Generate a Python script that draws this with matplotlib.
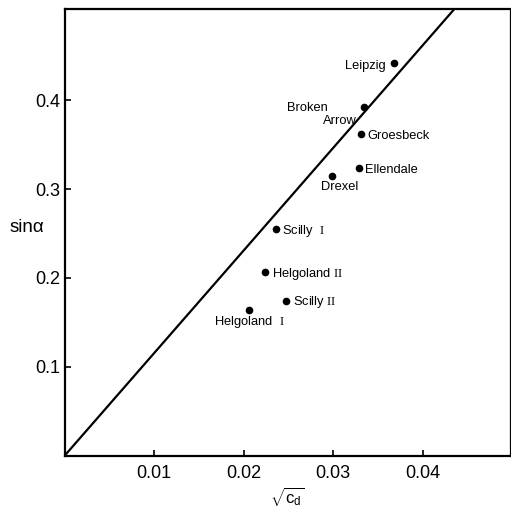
import matplotlib
matplotlib.use('Agg')
import matplotlib.pyplot as plt
import numpy as np

plt.rcParams['font.family'] = ['Liberation Sans', 'DejaVu Sans']
plt.rcParams['mathtext.fontset'] = 'custom'
plt.rcParams['mathtext.rm'] = 'Liberation Serif'
plt.rcParams['mathtext.sf'] = 'Liberation Sans'

# ─── DATOS ───────────────────────────────────────────────────────────────────
nombres = ['Leipzig', 'Broken', 'Groesbeck', 'Ellendale', 'Drexel',
           r'Scilly  $\mathrm{I}$', r'Helgoland $\mathrm{II}$',
           r'Scilly $\mathrm{II}$', r'Helgoland  $\mathrm{I}$']
raiz_cd = [0.03675, 0.03343, 0.03306, 0.03291, 0.02982,
           0.0236, 0.0224, 0.02468, 0.0206]
sin_alfa = [0.4423, 0.3928, 0.3617, 0.3234, 0.3151,
            0.2547, 0.2063, 0.174, 0.1639]

pendiente = 11.55          # recta sin(alfa) = k * sqrt(Cd)
x_ticks = [0.01, 0.02, 0.03, 0.04]
y_ticks = [0.1, 0.2, 0.3, 0.4]

# desplazamientos de etiqueta (puntos) y alineación
offsets = [(-6, -2, 'right'), (-26, -1, 'right'), (5, -1.5, 'left'),
           (4, -1, 'left'), (-8, -8, 'left'), (4, -1.5, 'left'),
           (5, -1.5, 'left'), (5, -0.5, 'left'), (-25, -8.5, 'left')]

fig = plt.figure(figsize=(5.11, 5.09), dpi=100)
ax = fig.add_axes([0.1268, 0.1051, 0.8703, 0.8766])

x_linea = np.array([0, 0.05])
ax.plot(x_linea, pendiente * x_linea, color='black', lw=1.6)
ax.plot(raiz_cd, sin_alfa, 'o', color='black', ms=4.5)

for nombre, xi, yi, (dx, dy, ha) in zip(nombres, raiz_cd, sin_alfa, offsets):
    ax.annotate(nombre, (xi, yi), xytext=(dx, dy), textcoords='offset points',
                ha=ha, va='center', fontsize=9.3)
# segunda línea de "Broken Arrow"
ax.annotate('Arrow', (raiz_cd[1], sin_alfa[1]), xytext=(-5, -10),
            textcoords='offset points', ha='right', va='center', fontsize=9.3)

ax.set_xlim(0, 0.0497)
ax.set_ylim(0, 0.5025)
ax.set_xticks(x_ticks)
ax.set_xticklabels([f'{v:.2f}' for v in x_ticks], fontsize=13)
ax.set_yticks(y_ticks)
ax.set_yticklabels([f'{v:.1f}' for v in y_ticks], fontsize=13)
ax.tick_params(direction='in', length=4, width=1.2)
ax.tick_params(axis='x', pad=7)
ax.tick_params(axis='y', pad=3.5)

for lado in ['left', 'bottom', 'top']:
    ax.spines[lado].set_linewidth(1.6)
ax.spines['right'].set_linewidth(0.9)

ax.set_xlabel(r'$\sqrt{\mathsf{c_d}}$', fontsize=12, labelpad=2)
ax.set_ylabel('sinα', fontsize=13.5, rotation=0)
ax.yaxis.set_label_coords(-0.085, 0.493)

fig.savefig('out.png', dpi=100)
